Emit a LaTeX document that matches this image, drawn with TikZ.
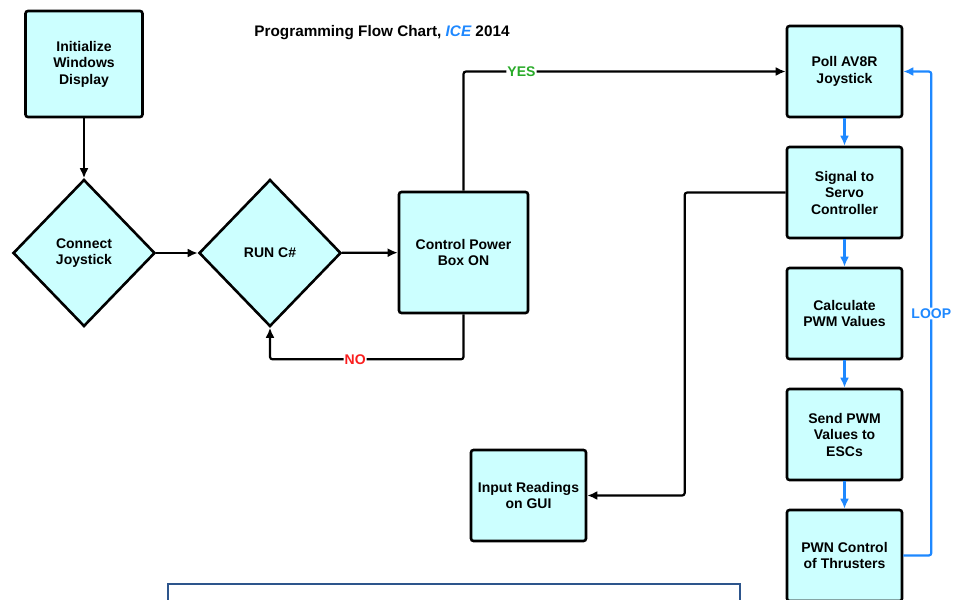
\documentclass[tikz,border=0pt]{standalone}
\usepackage{fontspec}
\setmainfont{Liberation Sans}
\usetikzlibrary{shapes.geometric,arrows.meta}

\definecolor{boxfill}{RGB}{204,255,255}
\definecolor{loopblue}{RGB}{30,136,255}
\definecolor{yesgreen}{RGB}{40,170,40}
\definecolor{nored}{RGB}{250,30,30}
\definecolor{frameblue}{RGB}{45,85,140}

\begin{document}
\begin{tikzpicture}[x=1pt, y=-1pt,
  every node/.style={font=\fontsize{14}{16.5}\selectfont\bfseries},
  box/.style={draw, line width=2.6pt, fill=boxfill, rounded corners=2.5pt, align=center,
    inner sep=0pt, minimum width=115pt, minimum height=91pt},
  choice/.style={draw, line width=2.6pt, fill=boxfill, diamond, align=center,
    inner sep=0pt, minimum width=142pt, minimum height=147pt},
  arr/.style={line width=2.2pt, rounded corners=2.5pt, -{Latex[length=10pt,width=9pt]}},
  barr/.style={arr, draw=loopblue},
  tag/.style={fill=white, inner sep=1pt}]
  \useasboundingbox (0,0) rectangle (959,600);

  \node[font=\fontsize{15.3}{18}\selectfont\bfseries] at (382,33)
    {Programming Flow Chart, \textcolor{loopblue}{\itshape ICE} 2014};

  % left part
  \node[box, minimum width=117pt, minimum height=106pt] (init) at (84,64) {Initialize\\Windows\\Display};
  \node[choice] (conn) at (84,253) {Connect\\Joystick};
  \node[choice] (run) at (270,253) {RUN C\#};
  \node[box, minimum width=129pt, minimum height=121pt] (ctrl) at (463.5,252.5) {Control Power\\Box ON};
  \node[box] (inp) at (528.5,495.5) {Input Readings\\on GUI};

  % right column
  \node[box] (poll) at (844.5,71.5) {Poll AV8R\\Joystick};
  \node[box] (sig) at (844.5,192.5) {Signal to\\Servo\\Controller};
  \node[box] (calc) at (844.5,313.5) {Calculate\\PWM Values};
  \node[box] (send) at (844.5,434.5) {Send PWM\\Values to\\ESCs};
  \node[box] (pwn) at (844.5,555.5) {PWN Control\\of Thrusters};

  \draw[arr] (init) -- (conn);
  \draw[arr] (conn) -- (run);
  \draw[arr] (run) -- (ctrl);
  \draw[arr] (ctrl.north) |- node[tag, pos=0.59, text=yesgreen] {YES} (poll.west);
  \draw[arr] (ctrl.south) -- ++(0,45) -| node[tag, pos=0.28, text=nored] {NO} (run.south);
  \draw[arr] (sig.west) -- ++(-101,0) |- (inp.east);

  \draw[barr] (poll) -- (sig);
  \draw[barr] (sig) -- (calc);
  \draw[barr] (calc) -- (send);
  \draw[barr] (send) -- (pwn);
  \draw[barr] (pwn.east) -- ++(28,0) |- node[tag, pos=0.25, text=loopblue] {LOOP} (poll.east);

  % frame at the bottom
  \draw[frameblue, line width=2pt] (168,584) rectangle (740,640);
\end{tikzpicture}
\end{document}
